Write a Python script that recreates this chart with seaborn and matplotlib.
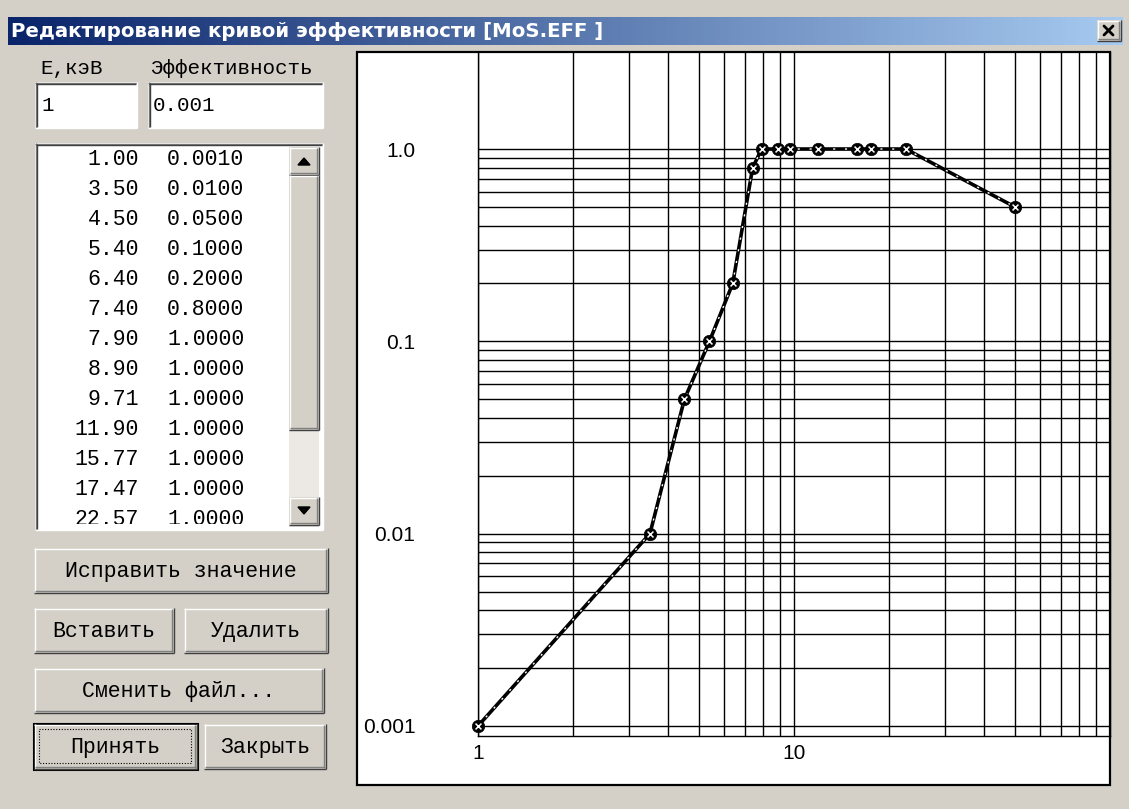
import matplotlib
matplotlib.use("Agg")
import matplotlib.pyplot as plt
import numpy as np
import seaborn as sns
from matplotlib.patches import Rectangle, Polygon
from matplotlib.ticker import FixedLocator, FixedFormatter, NullFormatter

sns.set_theme(style="white")
plt.rcParams["font.family"] = ["DejaVu Sans"]

# Data: detector efficiency curve (energy in keV)
energy_kev = [1.00, 3.50, 4.50, 5.40, 6.40, 7.40, 7.90, 8.90, 9.71, 11.90, 15.77, 17.47, 22.57, 50.00]
efficiency = [0.001, 0.01, 0.05, 0.1, 0.2, 0.8, 1.0, 1.0, 1.0, 1.0, 1.0, 1.0, 1.0, 0.5]

y_major = [0.001, 0.01, 0.1, 1.0]
y_labels = ["0.001", "0.01", "0.1", "1.0"]
x_major = [1, 10]
x_labels = ["1", "10"]
x_minor = [2, 3, 4, 5, 6, 7, 8, 9, 20, 30, 40, 50, 60, 70, 80, 90]
y_minor = [k * d for d in (0.001, 0.01, 0.1) for k in range(2, 10)]

title_text = "Редактирование кривой эффективности [MoS.EFF ]"
col_labels = ["E,кэВ", "Эффективность"]
edit_values = ["1", "0.001"]
button_labels = ["Исправить значение", "Вставить", "Удалить", "Сменить файл...", "Принять", "Закрыть"]

W, H = 1129, 809
FACE = "#d4d0c8"
MONO = "Liberation Mono"
PX = 0.72  # one pixel in points at dpi=100

fig = plt.figure(figsize=(W / 100, H / 100), dpi=100, facecolor=FACE)

# background axes in pixel coordinates for the dialog chrome
bg = fig.add_axes([0, 0, 1, 1], zorder=0)
bg.set_xlim(0, W)
bg.set_ylim(H, 0)
bg.axis("off")
bg.set_facecolor(FACE)


def hline(ax, x0, x1, y, c):
    ax.plot([x0, x1], [y, y], color=c, lw=PX * 1.4, solid_capstyle="butt")


def vline(ax, x, y0, y1, c):
    ax.plot([x, x], [y0, y1], color=c, lw=PX * 1.4, solid_capstyle="butt")


def raised(ax, x, y, w, h):
    ax.add_patch(Rectangle((x, y), w, h, facecolor=FACE, edgecolor="none"))
    hline(ax, x, x + w, y + 0.5, "white")
    vline(ax, x + 0.5, y, y + h, "white")
    hline(ax, x, x + w, y + h - 0.5, "#404040")
    vline(ax, x + w - 0.5, y, y + h, "#404040")
    hline(ax, x + 1, x + w - 1, y + h - 2, "#808080")
    vline(ax, x + w - 2, y + 1, y + h - 1, "#808080")


def sunken(ax, x, y, w, h, fill="white"):
    ax.add_patch(Rectangle((x, y), w, h, facecolor=fill, edgecolor="none"))
    hline(ax, x, x + w, y + 0.5, "#808080")
    vline(ax, x + 0.5, y, y + h, "#808080")
    hline(ax, x + 1, x + w - 1, y + 2, "#404040")
    vline(ax, x + 2, y + 1, y + h - 1, "#404040")
    hline(ax, x, x + w, y + h - 0.5, "white")
    vline(ax, x + w - 0.5, y, y + h, "white")


# title bar
grad = np.linspace(0, 1, 256)
c0 = np.array([10, 36, 106]) / 255
c1 = np.array([166, 202, 240]) / 255
img = (c0[None, :] * (1 - grad[:, None]) + c1[None, :] * grad[:, None])[None, :, :]
bg.imshow(img, extent=(8, 1123, 45, 17), aspect="auto", zorder=1)
bg.set_xlim(0, W)
bg.set_ylim(H, 0)
bg.text(11, 31, title_text, color="white", fontsize=14.2, fontweight="bold",
        va="center", ha="left", family="DejaVu Sans", zorder=2)
raised(bg, 1097, 20, 24, 21)
bg.plot([1104, 1113], [26, 35], color="black", lw=2.0)
bg.plot([1104, 1113], [35, 26], color="black", lw=2.0)

# column labels and edit fields
bg.text(40, 68, col_labels[0], family=MONO, fontsize=15, va="center", ha="left", color="black")
bg.text(150, 68, col_labels[1], family=MONO, fontsize=15, va="center", ha="left", color="black")
sunken(bg, 35, 82, 102, 46)
sunken(bg, 148, 82, 175, 46)
bg.text(41, 105, edit_values[0], family=MONO, fontsize=15, va="center", ha="left", color="black")
bg.text(153, 105, edit_values[1], family=MONO, fontsize=15, va="center", ha="left", color="black")

# list box with scrollbar
sunken(bg, 35, 143, 288, 387)
bg.add_patch(Rectangle((289, 147), 30, 380, facecolor="#ece9e4", edgecolor="none"))
raised(bg, 289, 147, 30, 28)
raised(bg, 289, 175, 30, 255)
raised(bg, 289, 497, 30, 28)
bg.add_patch(Polygon([[298, 165], [310, 165], [304, 158]], closed=True, color="black"))
bg.add_patch(Polygon([[298, 507], [310, 507], [304, 514]], closed=True, color="black"))

lst = fig.add_axes([37 / W, 1 - 524 / H, (288 - 37) / W, (524 - 145) / H], zorder=2)
lst.set_xlim(37, 288)
lst.set_ylim(524, 145)
lst.axis("off")
for i, (e, v) in enumerate(zip(energy_kev, efficiency)):
    yy = 159.5 + 30 * i
    lst.text(139, yy, f"{e:.2f}", family=MONO, fontsize=15.5, ha="right", va="center",
             color="black", clip_on=True)
    lst.text(167, yy, f"{v:.4f}", family=MONO, fontsize=15.5, ha="left", va="center",
             color="black", clip_on=True)

# buttons
btn_boxes = [(34, 548, 294, 45), (34, 608, 140, 45), (184, 608, 144, 45),
             (34, 668, 290, 45), (34, 724, 163, 45), (204, 724, 122, 45)]
for label, (bx, by, bw, bh) in zip(button_labels, btn_boxes):
    raised(bg, bx, by, bw, bh)
    bg.text(bx + bw / 2, by + bh / 2 + 1, label, family=MONO, fontsize=15.5,
            ha="center", va="center", color="black", zorder=3)
# default button frame and focus rectangle
bx, by, bw, bh = btn_boxes[4]
bg.add_patch(Rectangle((bx - 0.5, by - 0.5), bw + 1, bh + 1, fill=False, edgecolor="black", lw=1.5))
bg.add_patch(Rectangle((bx + 5, by + 5), bw - 11, bh - 11, fill=False, edgecolor="black",
                       lw=0.8, linestyle=(0, (1, 1.5))))

# chart panel
bg.add_patch(Rectangle((357, 52), 753, 733, facecolor="white", edgecolor="black", lw=1.6))

# chart axes
ax = fig.add_axes([478 / W, 1 - 736 / H, (1110 - 478) / W, (736 - 52) / H], zorder=3)
ax.patch.set_alpha(0)
ax.set_xscale("log")
ax.set_yscale("log")

sns.lineplot(x=energy_kev, y=efficiency, ax=ax, color="black", linewidth=2.6,
             sort=False, estimator=None, zorder=4)
sns.lineplot(x=energy_kev, y=efficiency, ax=ax, color="white", linewidth=1.0,
             sort=False, estimator=None, linestyle=(0, (1.5, 7)), zorder=5)
sns.scatterplot(x=energy_kev, y=efficiency, ax=ax, color="black", s=80,
                edgecolor="black", linewidth=0.5, zorder=6, clip_on=False)
sns.scatterplot(x=energy_kev, y=efficiency, ax=ax, color="white", marker="x", s=18,
                linewidth=1.1, zorder=7, clip_on=False)

ax.set_xlim(1, 100)
ax.set_ylim(10 ** -3.052, 10 ** 0.5044)
ax.xaxis.set_major_locator(FixedLocator(x_major))
ax.xaxis.set_major_formatter(FixedFormatter(x_labels))
ax.xaxis.set_minor_locator(FixedLocator(x_minor))
ax.xaxis.set_minor_formatter(NullFormatter())
ax.yaxis.set_major_locator(FixedLocator(y_major))
ax.yaxis.set_major_formatter(FixedFormatter(y_labels))
ax.yaxis.set_minor_locator(FixedLocator(y_minor))
ax.yaxis.set_minor_formatter(NullFormatter())
ax.grid(which="both", color="black", linewidth=1.0)
ax.tick_params(which="both", length=0)
ax.tick_params(axis="y", pad=45, labelsize=15)
ax.tick_params(axis="x", pad=6, labelsize=15)
for lab in ax.get_xticklabels() + ax.get_yticklabels():
    lab.set_family("Liberation Sans")
    lab.set_color("black")
for side in ["left", "bottom", "right"]:
    ax.spines[side].set_color("black")
    ax.spines[side].set_linewidth(1.0)
ax.spines["top"].set_visible(False)
ax.set_xlabel("")
ax.set_ylabel("")

fig.savefig("out.png", dpi=100, facecolor=FACE)
